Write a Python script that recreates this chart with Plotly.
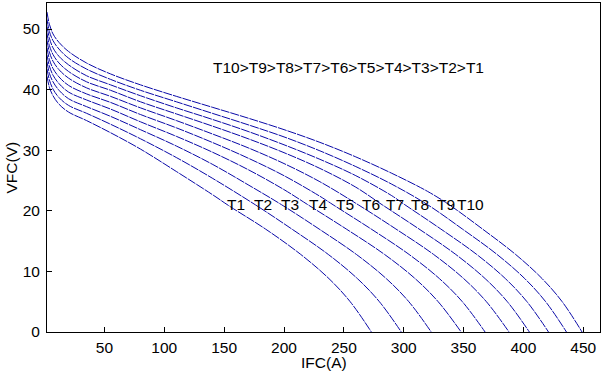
import plotly.graph_objects as go

# ---- data (IFC in A, VFC in V) ----
IFC_T1 = [2, 4, 7, 12, 20, 35, 55, 80, 110, 140, 155, 184.5, 214, 237.6, 255.3, 273]
VFC_T1 = [42.2, 40.4, 39.0, 37.6, 36.3, 34.9, 32.9, 30.2, 26.5, 22.7, 20.7, 17.0, 12.8, 8.8, 5.0, 0]

IFC_T2 = [2, 4, 7, 12, 20, 35, 55, 80, 110, 140, 176, 206.5, 237, 261.4, 279.7, 298]
VFC_T2 = [43.4, 41.6, 40.1, 38.7, 37.4, 36.1, 34.3, 31.9, 28.8, 25.4, 21.0, 17.0, 12.8, 8.8, 5.0, 0]

IFC_T3 = [2, 4, 7, 12, 20, 35, 55, 80, 110, 140, 170, 198, 229.3, 260.5, 285.5, 304.3, 323]
VFC_T3 = [44.6, 42.7, 41.3, 39.9, 38.5, 37.2, 35.6, 33.4, 30.7, 27.7, 24.3, 21.0, 17.0, 12.8, 8.8, 5.0, 0]

IFC_T4 = [2, 4, 7, 12, 20, 35, 55, 80, 110, 140, 170, 200, 220, 252, 284, 309.6, 328.8, 348]
VFC_T4 = [45.7, 43.9, 42.4, 41.0, 39.6, 38.3, 36.8, 34.7, 32.3, 29.7, 26.8, 23.5, 21.0, 17.0, 12.8, 8.8, 5.0, 0]

IFC_T5 = [2, 4, 7, 12, 20, 35, 55, 80, 110, 140, 170, 200, 230, 241, 272.8, 304.5, 329.9, 349, 368]
VFC_T5 = [46.9, 45.0, 43.5, 42.1, 40.7, 39.3, 37.9, 35.9, 33.7, 31.3, 28.7, 25.8, 22.4, 21.0, 17.0, 12.8, 8.8, 5.0, 0]

IFC_T6 = [2, 4, 7, 12, 20, 35, 55, 80, 110, 140, 170, 200, 230, 262, 293.5, 325, 350.2, 369.1, 388]
VFC_T6 = [48.1, 46.2, 44.7, 43.3, 41.9, 40.3, 38.9, 37.0, 34.9, 32.7, 30.4, 27.8, 24.8, 21.0, 17.0, 12.8, 8.8, 5.0, 0]

IFC_T7 = [2, 4, 7, 12, 20, 35, 55, 80, 110, 140, 170, 200, 230, 260, 282, 312.8, 343.5, 368.1, 386.6, 405]
VFC_T7 = [49.3, 47.3, 45.8, 44.4, 43.0, 41.3, 39.9, 38.0, 36.0, 34.0, 31.9, 29.6, 27.0, 23.9, 21.0, 17.0, 12.8, 8.8, 5.0, 0]

IFC_T8 = [2, 4, 7, 12, 20, 35, 55, 80, 110, 140, 170, 200, 230, 260, 290, 301, 331, 361, 385, 403, 421]
VFC_T8 = [50.4, 48.5, 46.9, 45.5, 44.1, 42.3, 40.8, 39.0, 37.0, 35.1, 33.1, 30.9, 28.5, 25.8, 22.5, 21.0, 17.0, 12.8, 8.8, 5.0, 0]

IFC_T9 = [2, 4, 7, 12, 20, 35, 55, 80, 110, 140, 170, 200, 230, 260, 290, 320, 349, 378, 401.2, 418.6, 436]
VFC_T9 = [51.6, 49.6, 48.1, 46.7, 45.2, 43.4, 41.7, 39.9, 38.0, 36.1, 34.2, 32.2, 29.9, 27.3, 24.4, 21.0, 17.0, 12.8, 8.8, 5.0, 0]

IFC_T10 = [2, 4, 7, 12, 20, 35, 55, 80, 110, 140, 170, 200, 230, 260, 290, 320, 338, 365.8, 393.5, 415.7, 432.4, 449]
VFC_T10 = [52.8, 50.8, 49.2, 47.8, 46.3, 44.4, 42.6, 40.8, 38.9, 37.1, 35.3, 33.4, 31.3, 28.9, 26.2, 23.2, 21.0, 17.0, 12.8, 8.8, 5.0, 0]

CURVE_NAMES = ["T1", "T2", "T3", "T4", "T5", "T6", "T7", "T8", "T9", "T10"]
X_TICKS = [50, 100, 150, 200, 250, 300, 350, 400, 450]
Y_TICKS = [0, 10, 20, 30, 40, 50]
ORDER_TEXT = "T10>T9>T8>T7>T6>T5>T4>T3>T2>T1"

# ---- layout constants ----
LABEL_X = [151.0, 173.3, 195.6, 219.3, 241.6, 263.8, 283.4, 304.3, 326.5, 343.2]
LABEL_Y = 21.1
ORDER_POS = (138.6, 43.6)
FONT = "Liberation Sans, Arial, Helvetica, sans-serif"
LINE_COLOR = "#0a0aa8"

xs = [IFC_T1, IFC_T2, IFC_T3, IFC_T4, IFC_T5, IFC_T6, IFC_T7, IFC_T8, IFC_T9, IFC_T10]
ys = [VFC_T1, VFC_T2, VFC_T3, VFC_T4, VFC_T5, VFC_T6, VFC_T7, VFC_T8, VFC_T9, VFC_T10]

fig = go.Figure()
for name, x, y in zip(CURVE_NAMES, xs, ys):
    fig.add_trace(go.Scatter(
        x=x, y=y, mode="lines", name=name, showlegend=False,
        line=dict(color=LINE_COLOR, width=1, shape="spline", smoothing=1.0, dash="9px,1px"),
    ))

annotations = []
for name, lx in zip(CURVE_NAMES, LABEL_X):
    annotations.append(dict(x=lx, y=LABEL_Y, xref="x", yref="y", text=name, showarrow=False,
                            xanchor="left", yanchor="middle",
                            font=dict(family=FONT, size=15.5, color="black")))
annotations.append(dict(x=ORDER_POS[0], y=ORDER_POS[1], xref="x", yref="y", text=ORDER_TEXT,
                        showarrow=False, xanchor="left", yanchor="middle",
                        font=dict(family=FONT, size=15.5, color="black")))
annotations.append(dict(x=0.5, y=-0.094, xref="paper", yref="paper", text="IFC(A)",
                        showarrow=False, xanchor="center", yanchor="middle",
                        font=dict(family=FONT, size=15.5, color="black")))
annotations.append(dict(x=-0.0633, y=0.5, xref="paper", yref="paper", text="VFC(V)",
                        showarrow=False, xanchor="center", yanchor="middle", textangle=-90,
                        font=dict(family=FONT, size=15.5, color="black")))

fig.update_layout(
    width=608, height=372,
    margin=dict(l=47, r=8, t=3, b=40),
    paper_bgcolor="white", plot_bgcolor="white",
    font=dict(family=FONT, size=15.5, color="black"),
    annotations=annotations,
    xaxis=dict(range=[2, 464], tickvals=X_TICKS, ticks="inside", ticklen=5, tickwidth=1,
               tickcolor="black", showline=True, linecolor="black", linewidth=1, mirror=True,
               showgrid=False, zeroline=False, ticklabelstandoff=1),
    yaxis=dict(range=[0, 54.3], tickvals=Y_TICKS, ticks="inside", ticklen=5, tickwidth=1,
               tickcolor="black", showline=True, linecolor="black", linewidth=1, mirror=True,
               showgrid=False, zeroline=False, ticklabelstandoff=3),
)

fig.write_html("out.html")
